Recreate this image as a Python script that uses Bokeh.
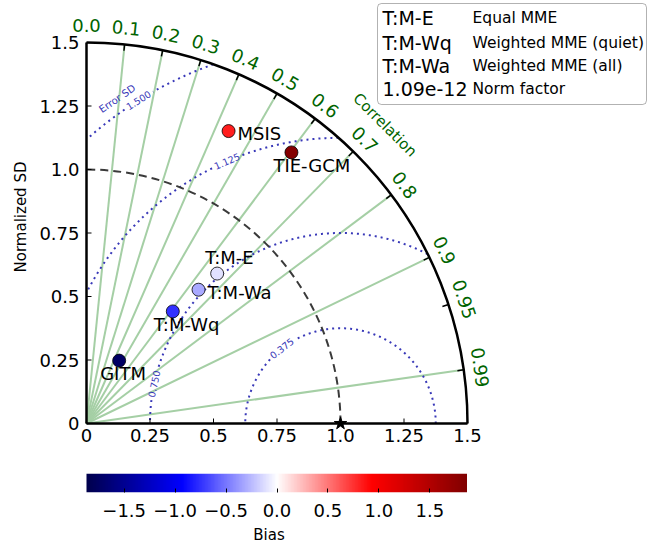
import numpy as np
from bokeh.plotting import figure
from bokeh.models import Range1d, FixedTicker, LinearColorMapper, BoxAnnotation, ColumnDataSource
from bokeh.layouts import column
from bokeh.core.properties import value
from bokeh.transform import transform
from bokeh.embed import file_html
from bokeh.resources import INLINE

# ---------------- data ----------------
models = ["MSIS", "TIE-GCM", "T:M-E", "T:M-Wa", "T:M-Wq", "GITM"]
norm_sd = [1.280, 1.338, 0.783, 0.687, 0.557, 0.279]
correlation = [0.437, 0.603, 0.657, 0.642, 0.610, 0.461]
bias = [0.82, 1.83, -0.11, -0.31, -0.75, -1.74]

corr_ticks = [0.0, 0.1, 0.2, 0.3, 0.4, 0.5, 0.6, 0.7, 0.8, 0.9, 0.95, 0.99]
corr_tick_labels = ["0.0", "0.1", "0.2", "0.3", "0.4", "0.5", "0.6", "0.7", "0.8", "0.9", "0.95", "0.99"]
corr_lines = [0.1, 0.2, 0.3, 0.4, 0.5, 0.6, 0.7, 0.8, 0.9, 0.99]
sd_ticks = [0, 0.25, 0.5, 0.75, 1.0, 1.25, 1.5]
sd_tick_labels = ["0", "0.25", "0.5", "0.75", "1.0", "1.25", "1.5"]
error_sd_levels = [0.375, 0.75, 1.125, 1.5]
error_sd_labels = ["0.375", "0.750", "1.125", "1.500"]
ref_sd = 1.0
max_sd = 1.5
bias_ticks = [-1.5, -1.0, -0.5, 0.0, 0.5, 1.0, 1.5]
bias_tick_labels = ["\u22121.5", "\u22121.0", "\u22120.5", "0.0", "0.5", "1.0", "1.5"]
bias_limit = 1.87

legend_keys = ["T:M-E", "T:M-Wq", "T:M-Wa", "1.09e-12"]
legend_desc = ["Equal MME", "Weighted MME (quiet)", "Weighted MME (all)", "Norm factor"]

# ---------------- style / layout ----------------
FONT = value("DejaVu Sans")
PX = 254.0                     # pixels per data unit
X0, Y0 = 86, 423               # screen position of the origin
PADL, PADB = 16, 10            # frame extends this far beyond the spines
FW, FH = 657 - X0 + PADL, Y0 + PADB
GREEN_LINE = "#a5cfa5"
DARKGREEN = "#006400"
BLUE = "#3838b8"
TICK = 5 / PX
CB_W = 381                     # colour bar length in px

# label offsets (screen px): dx to left edge, dy to middle
lab_dx = [9, -18, -12, 9, -19, -19]
lab_dy = [2, 13, -16, 3, 13, 13]
# contour label angular positions (deg, around the reference point)
clabel_ang = [128.0, 168.0, 113.4, 122.0]

def seismic(n=256):
    t = np.linspace(0, 1, n)
    k = [0.0, 0.25, 0.5, 0.75, 1.0]
    r = np.interp(t, k, [0.0, 0.0, 1.0, 1.0, 0.5])
    g = np.interp(t, k, [0.0, 0.0, 1.0, 0.0, 0.0])
    b = np.interp(t, k, [0.3, 1.0, 1.0, 0.0, 0.0])
    return ["#%02x%02x%02x" % (int(round(a * 255)), int(round(bb * 255)), int(round(c * 255)))
            for a, bb, c in zip(r, g, b)]

mapper = LinearColorMapper(palette=seismic(), low=-bias_limit, high=bias_limit)

p = figure(frame_width=FW, frame_height=FH,
           x_range=Range1d(-PADL / PX, (657 - X0) / PX), y_range=Range1d(-PADB / PX, Y0 / PX),
           output_backend="svg", toolbar_location=None,
           min_border_left=X0 - PADL, min_border_right=0, min_border_top=0,
           min_border_bottom=458 - Y0 - PADB)
p.outline_line_color = None
p.grid.visible = False

for ax in (p.xaxis[0], p.yaxis[0]):
    ax.ticker = FixedTicker(ticks=sd_ticks)
    ax.major_label_overrides = {t: l for t, l in zip(sd_ticks, sd_tick_labels)}
    ax.major_tick_in = 0
    ax.major_tick_out = 0
    ax.major_tick_line_color = None
    ax.minor_tick_line_color = None
    ax.axis_line_color = None
    ax.major_label_text_font = "DejaVu Sans"
    ax.major_label_text_font_size = "18px"
    ax.major_label_text_color = "black"
p.yaxis.major_label_standoff = 7 - PADL
p.xaxis.major_label_standoff = 5 - PADB
p.yaxis.axis_label = "Normalized SD"
p.yaxis.axis_label_text_font = "DejaVu Sans"
p.yaxis.axis_label_text_font_size = "15px"
p.yaxis.axis_label_text_font_style = "normal"
p.yaxis.axis_label_text_color = "black"
p.yaxis.axis_label_standoff = 6

# correlation rays
th = np.arccos(np.array(corr_lines))
p.segment(x0=0, y0=0, x1=max_sd * np.cos(th), y1=max_sd * np.sin(th),
          line_color=GREEN_LINE, line_width=2)

# error SD contours centred on reference
for lev, lab, ang in zip(error_sd_levels, error_sd_labels, clabel_ang):
    t = np.linspace(0, np.pi, 1500)
    x = ref_sd + lev * np.cos(t)
    y = lev * np.sin(t)
    ok = (x >= 0) & (x ** 2 + y ** 2 <= max_sd ** 2)
    gap = np.abs(t - np.radians(ang)) * lev * PX < 16
    x = np.where(ok & ~gap, x, np.nan)
    y = np.where(ok & ~gap, y, np.nan)
    p.line(x, y, line_color=BLUE, line_width=2, line_dash="2 4")
    a = np.radians(ang)
    p.text(x=[ref_sd + lev * np.cos(a)], y=[lev * np.sin(a)], text=[lab], angle=[a - np.pi / 2],
           text_font=FONT, text_font_size=value("9.5px"), text_color=BLUE,
           text_align="center", text_baseline="middle")
a = np.radians(124.5)
p.text(x=[ref_sd + 1.552 * np.cos(a)], y=[1.552 * np.sin(a)], text=["Error SD"], angle=[a - np.pi / 2],
       text_font=FONT, text_font_size=value("10px"), text_color=BLUE,
       text_align="center", text_baseline="middle")

# reference SD arc
p.arc(x=0, y=0, radius=ref_sd, start_angle=0, end_angle=np.pi / 2,
      line_color="#3a3a3a", line_width=2, line_dash="8 5")
# outer arc
p.arc(x=0, y=0, radius=max_sd, start_angle=0, end_angle=np.pi / 2,
      line_color="black", line_width=2.5)
# spines (the axes' own lines would sit on the frame edge) and their inward ticks
st = np.array(sd_ticks)
p.segment(x0=[0, 0], y0=[0, 0], x1=[0, max_sd], y1=[max_sd, 0], line_color="black", line_width=2.5)
p.segment(x0=np.zeros_like(st), y0=st, x1=np.full_like(st, TICK), y1=st, line_color="black", line_width=1)
p.segment(x0=st, y0=np.zeros_like(st), x1=st, y1=np.full_like(st, TICK), line_color="black", line_width=1)
# ticks on outer arc
tt = np.arccos(np.array(corr_ticks[1:]))
p.segment(x0=max_sd * np.cos(tt), y0=max_sd * np.sin(tt),
          x1=(max_sd - 0.025) * np.cos(tt), y1=(max_sd - 0.025) * np.sin(tt),
          line_color="black", line_width=1.5)
# correlation labels
tl = np.arccos(np.array(corr_ticks))
p.text(x=1.565 * np.cos(tl), y=1.565 * np.sin(tl), text=corr_tick_labels, angle=tl - np.pi / 2,
       text_font=FONT, text_font_size=value("18px"), text_color=DARKGREEN,
       text_align="center", text_baseline="middle")
p.text(x=[1.662 * np.cos(np.pi / 4)], y=[1.662 * np.sin(np.pi / 4)], text=["Correlation"],
       angle=[-np.pi / 4], text_font=FONT, text_font_size=value("15px"), text_color=DARKGREEN,
       text_align="center", text_baseline="middle")

# reference star
p.scatter(x=[ref_sd], y=[0], marker="star", size=13, fill_color="black", line_color="black")

# model points
sd = np.array(norm_sd)
cc = np.array(correlation)
src = ColumnDataSource(dict(x=sd * cc, y=sd * np.sqrt(1 - cc ** 2), bias=bias, name=models,
                            dx=lab_dx, dy=lab_dy))
p.scatter("x", "y", source=src, size=13, fill_color=transform("bias", mapper),
          line_color="black", line_width=0.8)
p.text("x", "y", text="name", source=src, x_offset="dx", y_offset="dy",
       text_font=FONT, text_font_size=value("18px"), text_color="black",
       text_align="left", text_baseline="middle")

# legend table box
def dx_(ix):
    return (ix - X0) / PX

def dy_(iy):
    return (Y0 - iy) / PX

p.add_layout(BoxAnnotation(left=dx_(377), right=dx_(646), top=dy_(3), bottom=dy_(104),
                           fill_color="white", fill_alpha=1, line_color="black", line_width=1,
                           border_radius=4, level="underlay"))
rows_y = [dy_(v) for v in (17, 42, 65, 88)]
p.text(x=[dx_(382)] * 4, y=rows_y, text=legend_keys, text_font=FONT,
       text_font_size=value("19px"), text_color="black", text_align="left", text_baseline="middle")
p.text(x=[dx_(472)] * 4, y=rows_y, text=legend_desc, text_font=FONT,
       text_font_size=value("15.5px"), text_color="black", text_align="left", text_baseline="middle")

# ---------------- colorbar figure ----------------
cb_px = CB_W / (2 * bias_limit)
cb = figure(frame_width=CB_W + PADL, frame_height=19,
            x_range=Range1d(-bias_limit - PADL / cb_px, bias_limit), y_range=Range1d(0, 1),
            output_backend="svg", toolbar_location=None, y_axis_type=None,
            min_border_left=X0 - PADL, min_border_right=0, min_border_top=15, min_border_bottom=50)
cb.outline_line_color = None
cb.grid.visible = False
grad = np.linspace(-bias_limit, bias_limit, 512)[None, :]
cb.image(image=[grad], x=-bias_limit, y=0, dw=2 * bias_limit, dh=1, color_mapper=mapper)
ax = cb.xaxis[0]
ax.ticker = FixedTicker(ticks=bias_ticks)
ax.major_label_overrides = {t: l for t, l in zip(bias_ticks, bias_tick_labels)}
ax.axis_line_color = None
ax.major_tick_in = 4
ax.major_tick_out = 0
ax.minor_tick_line_color = None
ax.major_tick_line_color = "black"
ax.major_label_text_font = "DejaVu Sans"
ax.major_label_text_font_size = "18px"
ax.major_label_text_color = "black"
ax.major_label_standoff = 11
ax.axis_label = "Bias"
ax.axis_label_text_font = "DejaVu Sans"
ax.axis_label_text_font_size = "15px"
ax.axis_label_text_font_style = "normal"
ax.axis_label_text_color = "black"
ax.axis_label_standoff = 6

layout = column(p, cb, spacing=0)
open("out.html", "w").write(file_html(layout, INLINE))
